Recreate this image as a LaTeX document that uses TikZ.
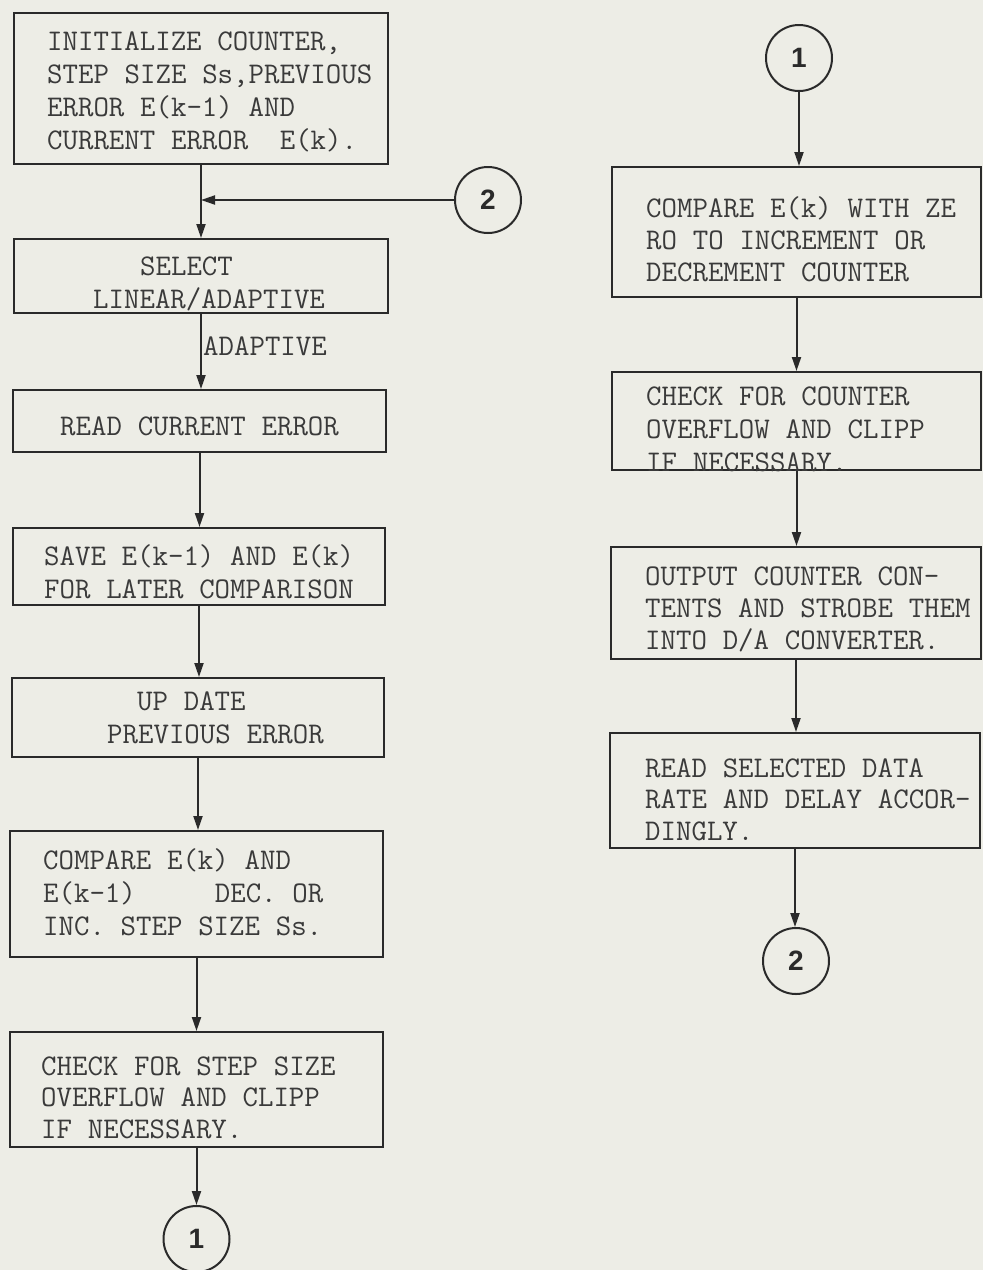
\documentclass[tikz,border=0pt]{standalone}
\usepackage{fontspec}
\usetikzlibrary{arrows.meta}
\newfontfamily\digitfont{Liberation Sans}
\definecolor{paper}{HTML}{EDEDE6}
\definecolor{ink}{HTML}{2A2A2A}
\definecolor{typeink}{HTML}{3A3A3A}
% fixed-pitch typewriter setting: every space is one character wide
\newcommand{\typewriter}[1]{\fontsize{30}{#1}\selectfont\ttfamily}
\newcommand{\pitchspaces}{\spaceskip=15.75pt\relax\xspaceskip=15.75pt\relax}
\begin{document}
\begin{tikzpicture}[x=1pt,y=-1pt,
  stepbox/.style={draw=ink, line width=2pt, rectangle, inner sep=0pt},
  conn/.style={draw=ink, line width=2pt, circle, inner sep=0pt,
    minimum size=66pt, text=ink,
    font=\fontsize{28}{28}\selectfont\digitfont\bfseries},
  typed/.style={anchor=base west, inner sep=0pt, text width=370pt,
    align=flush left, text=typeink, font=\typewriter{33},
    execute at begin node=\pitchspaces},
  flow/.style={draw=ink, line width=2pt,
    -{Triangle[length=14pt,width=9pt]}}]

% paper
\fill[paper] (0,0) rectangle (983,1270);
\useasboundingbox (0,0) rectangle (983,1270);

% left column
\node[stepbox, minimum width=374pt, minimum height=151pt] (b1) at (201,88.5) {};
\node[stepbox, minimum width=374pt, minimum height=74pt]  (b2) at (201,276) {};
\node[stepbox, minimum width=373pt, minimum height=62pt]  (b3) at (199.5,421) {};
\node[stepbox, minimum width=372pt, minimum height=77pt]  (b4) at (199,566.5) {};
\node[stepbox, minimum width=372pt, minimum height=79pt]  (b5) at (198,717.5) {};
\node[stepbox, minimum width=373pt, minimum height=126pt] (b6) at (196.5,894) {};
\node[stepbox, minimum width=373pt, minimum height=115pt] (b7) at (196.5,1089.5) {};

% right column
\node[stepbox, minimum width=369pt, minimum height=130pt] (r1) at (796.5,232) {};
\node[stepbox, minimum width=369pt, minimum height=98pt]  (r2) at (796.5,421) {};
\node[stepbox, minimum width=370pt, minimum height=112pt] (r3) at (796,603) {};
\node[stepbox, minimum width=370pt, minimum height=115pt] (r4) at (795,790.5) {};

% off-page connectors
\node[conn] (c2a) at (488,200) {2};
\node[conn] (c1a) at (799,58) {1};
\node[conn] (c2b) at (796,961) {2};
\node[conn] (c1b) at (196.5,1239) {1};

% box texts
\node[typed] (t1) at (47,50) {INITIALIZE COUNTER,\\STEP SIZE Ss,PREVIOUS\\ERROR E(k-1) AND\\CURRENT ERROR\hspace*{31.5pt}E(k).};
\node[typed] (t2) at (93,275) {\hspace*{47pt}SELECT\\LINEAR/ADAPTIVE};
\node[typed] (t3) at (60,435) {READ CURRENT ERROR};
\node[typed] (t4) at (44,565) {SAVE E(k-1) AND E(k)\\FOR LATER COMPARISON};
\node[typed] (t5) at (107,710) {\hspace*{30pt}UP DATE\\PREVIOUS ERROR};
\node[typed] (t6) at (43,869) {COMPARE E(k) AND\\E(k-1)\hspace*{79pt}DEC. OR\\INC. STEP SIZE Ss.};
\node[typed, font=\typewriter{31.5}] (t7) at (41,1075) {CHECK FOR STEP SIZE\\OVERFLOW AND CLIPP\\IF NECESSARY.};

\node[typed, font=\typewriter{32}] (u1) at (646,217) {COMPARE E(k) WITH ZE\\RO TO INCREMENT OR\\DECREMENT COUNTER};
\node[typed] (u2) at (646,405) {CHECK FOR COUNTER\\OVERFLOW AND CLIPP\\IF NECESSARY.};
\node[typed, font=\typewriter{32}] (u3) at (645,585) {OUTPUT COUNTER CON-\\TENTS AND STROBE THEM\\INTO D/A CONVERTER.};
\node[typed, font=\typewriter{31.5}] (u4) at (645,777) {READ SELECTED DATA\\RATE AND DELAY ACCOR-\\DINGLY.};

% flow lines, left column
\coordinate (j) at (b1.south |- c2a.west);
\draw[flow] (b1.south) -- (b2.north);
\draw[flow] (c2a.west) -- (j);
\draw[flow] (b2.south) -- (b2.south |- b3.north);
\node[typed] (lab) at (203,355) {ADAPTIVE};
\draw[flow] (b3.south) -- (b3.south |- b4.north);
\draw[flow] (b4.south) -- (b4.south |- b5.north);
\draw[flow] (b5.south) -- (b5.south |- b6.north);
\draw[flow] (b6.south) -- (b6.south |- b7.north);
\draw[flow] (b7.south) -- (c1b.north);

% flow lines, right column
\draw[flow] (c1a.south) -- (c1a.south |- r1.north);
\draw[flow] (r1.south) -- (r1.south |- r2.north);
\draw[flow] (r2.south) -- (r2.south |- r3.north);
\draw[flow] (r3.south) -- (r3.south |- r4.north);
\draw[flow] (r4.south) -- (r4.south |- c2b.north);
\end{tikzpicture}
\end{document}
